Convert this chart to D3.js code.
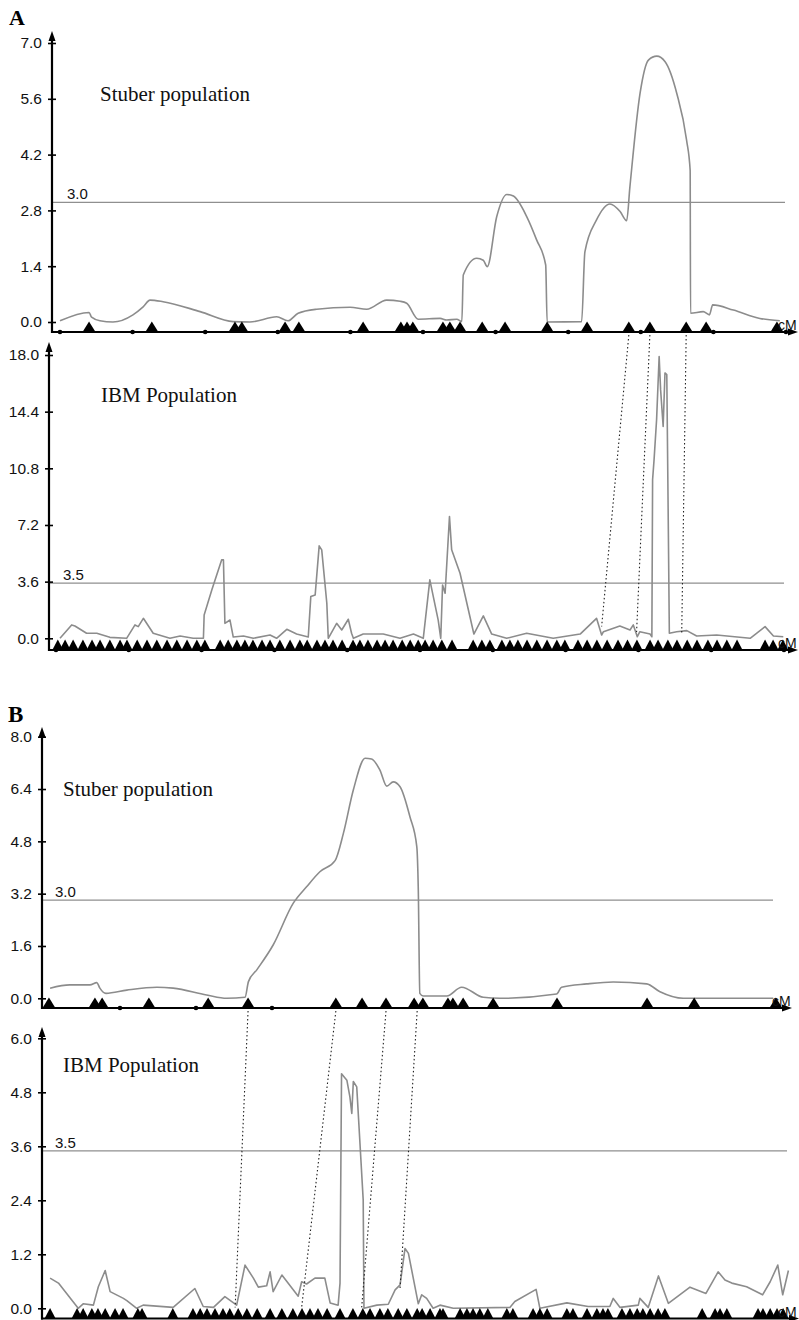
<!DOCTYPE html>
<html>
<head>
<meta charset="utf-8">
<script src="https://cdn.jsdelivr.net/npm/d3@7"></script>
<style>
  html, body { margin: 0; padding: 0; background: #fff; }
  svg { display: block; }
</style>
</head>
<body>
<svg id="chart" width="799" height="1320"></svg>
<script>
// ---------------- DATA ----------------
// Panel A – Stuber population (position cM, LOD)
const stuberA_cM  = [0, 8.0, 8.7, 11.0, 14.6, 20.1, 22.9, 24.8, 28.4, 38.6, 47.7, 52.3, 59.7, 62.8, 65.6, 70.7, 79.9, 84.5, 90.0, 93.7, 95.5, 98.7, 104.7, 106.5, 109.3, 110.7, 111.1, 114.8, 116.6, 117.7, 120.3, 123.1, 124.9, 128.6, 131.3, 133.8, 134.2, 143.7, 144.6, 147.8, 151.5, 154.3, 156.1, 157.0, 159.8, 162.1, 164.4, 166.7, 169.9, 172.6, 173.6, 173.7, 177.2, 178.9, 179.8, 185.5, 192.8, 198.3];
const stuberA_lod = [0.03, 0.24, 0.12, 0.03, 0.0, 0.18, 0.38, 0.55, 0.51, 0.26, 0.01, 0.0, 0.13, 0.03, 0.22, 0.32, 0.37, 0.32, 0.55, 0.52, 0.47, 0.07, 0.09, 0.05, 0.07, 0.01, 1.18, 1.6, 1.55, 1.39, 2.64, 3.2, 3.16, 2.64, 2.06, 1.43, 0.0, 0.01, 1.76, 2.56, 2.96, 2.77, 2.54, 3.39, 5.74, 6.57, 6.67, 6.53, 5.74, 4.57, 3.8, 0.22, 0.26, 0.18, 0.43, 0.3, 0.09, 0.03];
const stuberA_markers = [8.0, 25.3, 48.2, 50.1, 62.0, 65.8, 83.5, 93.9, 95.6, 97.2, 105.5, 107.4, 110.2, 116.3, 122.6, 134.2, 145.2, 156.7, 162.5, 172.5, 178.0, 197.5];

// Panel A – IBM population
const ibmA_cM  = [1.1, 4.3, 5.2, 8.4, 11.2, 14.8, 19.4, 21.7, 22.6, 24.0, 26.7, 31.3, 34.1, 37.7, 40.5, 40.7, 42.8, 45.5, 46.0, 46.4, 47.8, 48.7, 51.5, 54.2, 58.8, 60.6, 63.4, 66.1, 69.3, 70.0, 71.2, 72.3, 73.0, 74.4, 74.8, 77.1, 78.5, 80.3, 81.2, 81.7, 84.4, 89.9, 94.5, 98.2, 100.9, 102.7, 105.0, 105.7, 106.2, 106.9, 108.1, 108.7, 111.0, 114.8, 117.4, 119.7, 123.8, 129.3, 136.6, 144.0, 148.5, 149.9, 150.4, 154.9, 157.7, 158.6, 159.7, 160.4, 163.2, 163.7, 163.9, 164.3, 165.0, 165.7, 166.1, 166.8, 167.3, 167.8, 168.2, 168.5, 170.5, 173.3, 176.0, 181.5, 190.7, 194.8, 197.1, 199.8];
const ibmA_lod = [0.0, 0.85, 0.78, 0.32, 0.32, 0.06, 0.0, 0.85, 0.74, 1.27, 0.32, 0.0, 0.15, 0.0, 0.0, 1.48, 3.07, 4.98, 4.98, 0.95, 1.16, 0.08, 0.15, 0.0, 0.21, 0.0, 0.57, 0.27, 0.08, 2.65, 2.75, 5.87, 5.62, 2.23, 0.0, 0.95, 0.53, 1.21, 0.32, 0.0, 0.27, 0.27, 0.0, 0.27, 0.0, 3.71, 1.16, 0.0, 3.39, 2.86, 7.74, 5.62, 4.13, 0.27, 1.42, 0.27, 0.0, 0.32, 0.0, 0.27, 1.27, 0.21, 0.42, 0.78, 0.53, 0.85, 0.1, 0.42, 0.27, 0.1, 10.07, 11.34, 13.9, 17.9, 15.8, 13.46, 16.86, 16.75, 7.52, 0.32, 0.42, 0.49, 0.15, 0.21, 0.0, 0.74, 0.15, 0.1];
const ibmA_markers = [0.5, 2.5, 4.7, 7.4, 9.9, 12.1, 14.8, 17.6, 19.5, 22.3, 25.0, 27.7, 30.5, 33.2, 36.0, 38.7, 40.9, 45.1, 47.3, 49.7, 51.9, 54.1, 56.6, 58.8, 61.5, 64.3, 67.0, 69.0, 71.7, 73.9, 76.1, 78.6, 81.6, 83.5, 85.7, 88.2, 90.4, 92.6, 95.1, 97.3, 99.5, 101.4, 103.6, 106.0, 108.8, 114.6, 117.0, 119.2, 122.5, 124.7, 126.9, 129.4, 132.1, 134.9, 137.6, 139.8, 143.4, 145.9, 148.6, 151.4, 154.4, 157.0, 159.6, 163.2, 165.4, 168.1, 170.6, 173.4, 176.1, 179.1, 181.6, 184.3, 187.1, 194.8, 197.0, 199.7];

// Connector lines A (Stuber marker cM -> IBM cM, LOD where the line ends)
const connA_stuber = [156.7, 162.5, 172.5];
const connA_ibm    = [149.9, 159.5, 171.9];
const connA_end    = [0.75, 0.4, 0.3];

// Panel B – Stuber population
const stuberB_cM  = [1.6, 6.8, 12.1, 13.9, 14.7, 16.3, 21.8, 29.7, 34.0, 42.8, 48.1, 52.9, 53.8, 56.0, 60.3, 65.6, 69.1, 72.6, 76.6, 78.8, 81.4, 84.5, 86.2, 88.4, 90.2, 91.9, 93.7, 96.3, 98.1, 98.5, 98.9, 99.8, 106.0, 109.9, 115.6, 120.0, 134.9, 136.2, 142.8, 149.8, 158.6, 162.1, 168.2, 191.9];
const stuberB_lod = [0.31, 0.41, 0.41, 0.48, 0.31, 0.15, 0.25, 0.34, 0.31, 0.10, 0.0, 0.03, 0.51, 0.87, 1.63, 2.91, 3.41, 3.87, 4.21, 5.05, 6.37, 7.34, 7.32, 6.98, 6.49, 6.62, 6.47, 5.55, 4.64, 3.31, 0.15, 0.07, 0.07, 0.34, 0.03, 0.0, 0.13, 0.34, 0.44, 0.5, 0.44, 0.2, 0.0, 0.0];
const stuberB_markers = [1.3, 13.4, 15.3, 27.6, 43.2, 53.7, 76.8, 83.7, 90.0, 97.4, 99.7, 106.3, 107.6, 110.3, 118.2, 135.0, 158.7, 171.1, 192.6];

// Panel B – IBM population
const ibmB_cM  = [1.6, 3.8, 9.0, 10.3, 13.0, 14.3, 16.1, 17.4, 20.9, 21.8, 24.4, 26.1, 34.0, 39.7, 41.9, 44.6, 47.6, 50.7, 52.9, 55.1, 56.4, 58.6, 59.5, 60.3, 62.6, 66.9, 67.8, 69.1, 71.3, 73.9, 75.3, 77.4, 77.9, 78.3, 79.7, 80.5, 81.0, 81.4, 82.3, 83.2, 84.0, 84.2, 87.6, 90.6, 92.4, 93.7, 95.0, 95.9, 98.5, 99.4, 100.7, 102.4, 104.2, 107.7, 122.6, 123.9, 129.5, 130.5, 137.6, 143.2, 148.9, 149.8, 151.6, 156.4, 156.8, 159.0, 161.7, 164.3, 170.0, 174.2, 177.4, 179.2, 181.0, 184.9, 189.1, 191.1, 193.1, 194.4, 195.9];
const ibmB_lod = [0.67, 0.56, 0.0, 0.1, 0.07, 0.48, 0.84, 0.37, 0.22, 0.17, 0.0, 0.07, 0.02, 0.44, 0.04, 0.02, 0.26, 0.07, 0.96, 0.67, 0.47, 0.5, 0.81, 0.37, 0.74, 0.27, 0.59, 0.54, 0.67, 0.67, 0.12, 0.07, 0.56, 5.21, 5.07, 4.7, 4.33, 5.04, 4.92, 3.59, 2.41, 0.0, 0.07, 0.09, 0.41, 0.52, 1.33, 1.22, 0.1, 0.3, 0.22, 0.0, 0.07, 0.0, 0.02, 0.15, 0.42, 0.0, 0.12, 0.04, 0.04, 0.22, 0.02, 0.07, 0.22, 0.02, 0.72, 0.11, 0.47, 0.33, 0.81, 0.63, 0.56, 0.48, 0.3, 0.59, 0.96, 0.3, 0.84];
const ibmB_markers = [1.6, 8.7, 10.3, 12.6, 14.2, 16.1, 18.7, 20.8, 24.7, 25.8, 33.9, 39.2, 41.1, 42.9, 45.0, 47.1, 48.9, 51.1, 53.4, 56.1, 59.5, 62.6, 65.5, 67.9, 70.0, 72.1, 74.5, 77.9, 81.3, 83.9, 85.8, 88.4, 90.5, 93.2, 95.5, 98.2, 99.5, 101.6, 104.2, 105.0, 109.5, 111.3, 112.9, 114.7, 116.8, 121.8, 123.4, 128.7, 130.5, 132.4, 137.6, 139.2, 142.9, 145.5, 147.1, 148.4, 152.1, 154.2, 156.1, 157.6, 159.5, 161.6, 163.4, 173.2, 176.6, 177.9, 179.7, 187.9, 189.2, 191.1, 192.9, 194.5];

// Connector lines B
const connB_stuber = [53.7, 76.8, 90.0, 98.2];
const connB_ibm    = [50.3, 67.8, 83.6, 93.7];
const connB_end    = [0.02, 0.02, 0.02, 0.45];

// Tick values
const ticksA_stuber = [0.0, 1.4, 2.8, 4.2, 5.6, 7.0];
const ticksA_ibm    = [0.0, 3.6, 7.2, 10.8, 14.4, 18.0];
const ticksB_stuber = [0.0, 1.6, 3.2, 4.8, 6.4, 8.0];
const ticksB_ibm    = [0.0, 1.2, 2.4, 3.6, 4.8, 6.0];
const xTicksA = [0, 20, 40, 60, 80, 100, 120, 140, 160, 180, 200];
const xTicksB = [20, 40, 60];
const thresholds = [3.0, 3.5, 3.0, 3.5];
const popLabels = ["Stuber population", "IBM Population", "Stuber population", "IBM Population"];
const panelLetters = ["A", "B"];

// ---------------- DRAWING ----------------
const svg = d3.select('#chart');
const SANS = '"Liberation Sans", Arial, sans-serif';
const SERIF = '"Liberation Serif", "Times New Roman", serif';
const CURVE = '#8c8c8c';

function drawPanel(p) {
  const g = svg.append('g');
  const x = d3.scaleLinear().domain([0, 200]).range(p.xRange);
  const y = d3.scaleLinear().domain([0, p.yMax]).range(p.yRange);

  // threshold line + label
  g.append('line')
    .attr('x1', p.axisX).attr('x2', p.thrEnd)
    .attr('y1', y(p.thr)).attr('y2', y(p.thr))
    .attr('stroke', '#8f8f8f').attr('stroke-width', 1.2);
  g.append('text')
    .attr('x', p.axisX + p.thrDx).attr('y', y(p.thr) - 3)
    .attr('font-family', SANS).attr('font-size', 15).attr('fill', '#111')
    .text(p.thr.toFixed(1));

  // LOD curve
  const line = d3.line().x(d => x(d[0])).y(d => y(d[1])).curve(p.curve);
  g.append('path').datum(d3.zip(p.cm, p.lod))
    .attr('d', line).attr('fill', 'none')
    .attr('stroke', CURVE).attr('stroke-width', 1.6)
    .attr('stroke-linejoin', 'round');

  // y axis ticks and labels
  const ax = g.append('g').attr('transform', `translate(${p.axisX},0)`)
    .call(d3.axisLeft(y).tickValues(p.ticks).tickFormat(d3.format('.1f')).tickSizeOuter(0));
  ax.select('.domain').remove();
  ax.selectAll('.tick line').attr('x1', -4).attr('x2', 4).attr('stroke', '#000').attr('stroke-width', 1.6);
  ax.selectAll('.tick text').attr('x', -10).attr('font-family', SANS).attr('font-size', 15.5).attr('fill', '#111');

  // y axis line + arrow
  g.append('line').attr('x1', p.axisX).attr('x2', p.axisX)
    .attr('y1', p.baseY + 1).attr('y2', p.arrowTop + 6)
    .attr('stroke', '#000').attr('stroke-width', 2.2);
  g.append('path')
    .attr('d', `M${p.axisX},${p.arrowTop} L${p.axisX - 3.5},${p.arrowTop + 10} L${p.axisX + 3.5},${p.arrowTop + 10} Z`)
    .attr('fill', '#000');

  // x axis line + arrow
  g.append('line').attr('x1', p.axisX - 1).attr('x2', p.xEnd - 6)
    .attr('y1', p.baseY).attr('y2', p.baseY)
    .attr('stroke', '#000').attr('stroke-width', 2.2);
  g.append('path')
    .attr('d', `M${p.xEnd},${p.baseY} L${p.xEnd - 10},${p.baseY - 3.5} L${p.xEnd - 10},${p.baseY + 3.5} Z`)
    .attr('fill', '#000');

  // x tick dots
  g.selectAll('circle.xt').data(p.xTicks).enter().append('circle')
    .attr('cx', d => x(d)).attr('cy', p.baseY).attr('r', 2.3).attr('fill', '#000');

  // markers
  g.selectAll('path.mk').data(p.markers).enter().append('path')
    .attr('d', d => `M${x(d) - p.mw},${p.baseY} L${x(d)},${p.baseY - p.mh} L${x(d) + p.mw},${p.baseY} Z`)
    .attr('fill', '#000');

  // cM label
  g.append('text').attr('x', p.cmX).attr('y', p.baseY - 2)
    .attr('font-family', SANS).attr('font-size', 14).attr('fill', '#111').text('cM');

  // population label
  g.append('text').attr('x', p.labelX).attr('y', p.labelY)
    .attr('font-family', SERIF).attr('font-size', 21).attr('fill', '#111').text(p.label);

  return { x, y, baseY: p.baseY };
}

const A1 = drawPanel({
  xRange: [60, 786], yMax: 7, yRange: [322, 43], ticks: ticksA_stuber,
  axisX: 52, baseY: 332, arrowTop: 31, xEnd: 798, thrEnd: 785, thr: thresholds[0], thrDx: 15,
  cm: stuberA_cM, lod: stuberA_lod, curve: d3.curveMonotoneX,
  markers: stuberA_markers, mw: 6.5, mh: 10.5, xTicks: xTicksA, cmX: 778,
  label: popLabels[0], labelX: 100, labelY: 101
});
const A2 = drawPanel({
  xRange: [56, 784], yMax: 18, yRange: [638.3, 355], ticks: ticksA_ibm,
  axisX: 49, baseY: 650, arrowTop: 342, xEnd: 798, thrEnd: 784, thr: thresholds[1], thrDx: 14,
  cm: ibmA_cM, lod: ibmA_lod, curve: d3.curveLinear,
  markers: ibmA_markers, mw: 5.5, mh: 10.5, xTicks: xTicksA, cmX: 778,
  label: popLabels[1], labelX: 101, labelY: 402
});
const B1 = drawPanel({
  xRange: [44, 804], yMax: 8, yRange: [998.3, 736.7], ticks: ticksB_stuber,
  axisX: 42, baseY: 1008, arrowTop: 727, xEnd: 792, thrEnd: 773, thr: thresholds[2], thrDx: 13,
  cm: stuberB_cM, lod: stuberB_lod, curve: d3.curveMonotoneX,
  markers: stuberB_markers, mw: 6.5, mh: 10.5, xTicks: xTicksB, cmX: 772,
  label: popLabels[2], labelX: 63, labelY: 796
});
const B2 = drawPanel({
  xRange: [44, 804], yMax: 6, yRange: [1308.3, 1038.3], ticks: ticksB_ibm,
  axisX: 42, baseY: 1318.5, arrowTop: 1027, xEnd: 799, thrEnd: 787, thr: thresholds[3], thrDx: 13,
  cm: ibmB_cM, lod: ibmB_lod, curve: d3.curveLinear,
  markers: ibmB_markers, mw: 5.5, mh: 10.5, xTicks: [], cmX: 778,
  label: popLabels[3], labelX: 63, labelY: 1072
});

// connector dotted lines
function connectors(top, bot, sCm, iCm, endLod) {
  svg.append('g').selectAll('line').data(d3.range(sCm.length)).enter().append('line')
    .attr('x1', i => top.x(sCm[i])).attr('y1', top.baseY + 3)
    .attr('x2', i => bot.x(iCm[i])).attr('y2', i => bot.y(endLod[i]))
    .attr('stroke', '#222').attr('stroke-width', 1.1)
    .attr('stroke-dasharray', '1.5,2.5');
}
connectors(A1, A2, connA_stuber, connA_ibm, connA_end);
connectors(B1, B2, connB_stuber, connB_ibm, connB_end);

// panel letters
svg.append('text').attr('x', 9).attr('y', 25)
  .attr('font-family', SERIF).attr('font-weight', 'bold').attr('font-size', 22).attr('fill', '#000')
  .text(panelLetters[0]);
svg.append('text').attr('x', 8).attr('y', 722)
  .attr('font-family', SERIF).attr('font-weight', 'bold').attr('font-size', 23).attr('fill', '#000')
  .text(panelLetters[1]);
</script>
</body>
</html>
